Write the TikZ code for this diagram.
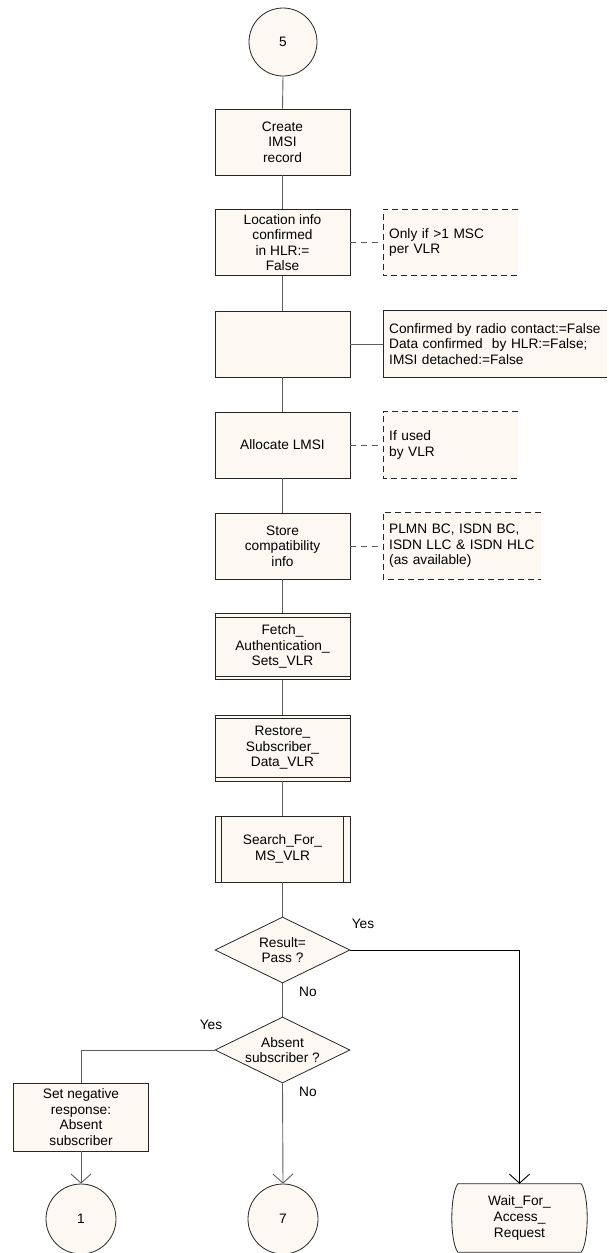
\documentclass[tikz,border=0pt]{standalone}
\usepackage{fontspec}
\setmainfont{Liberation Sans}
\usetikzlibrary{shapes.geometric,arrows.meta,backgrounds}
\definecolor{sdlfill}{RGB}{253,248,242}
\definecolor{linegray}{RGB}{95,95,95}
\begin{document}
\begin{tikzpicture}[x=1pt,y=-1pt,
  every node/.style={font=\fontsize{13.7}{15.6}\selectfont, align=center, inner sep=0pt},
  task/.style={draw=black!85, fill=sdlfill, line width=0.8pt, minimum width=135pt, minimum height=66pt},
  conn/.style={draw=linegray, line width=0.9pt},
  arr/.style={conn, -{Straight Barb[length=9pt,width=20pt]}},
  cmt/.style={fill=sdlfill, anchor=west, minimum height=66pt, inner xsep=6pt, text width=#1, align=left},
  brk/.style={draw=black!85, line width=0.8pt},
  dsh/.style={dash pattern=on 6pt off 4pt},
  conncircle/.style={circle, draw=black!85, fill=sdlfill, line width=0.8pt, minimum size=68pt},
  decision/.style={diamond, draw=black!85, fill=sdlfill, line width=0.8pt, minimum width=135pt, minimum height=66pt, inner sep=0pt}
]
\useasboundingbox (0,0) rectangle (608,1253);

% main column
\node[conncircle] (c5) at (283,42) {5};
\node[task] (b1) at (282.5,142) {Create\\IMSI\\record};
\node[task] (b2) at (282.5,242.5) {Location info\\confirmed\\in HLR:=\\False};
\node[task] (b3) at (282.5,344) {};
\node[task] (b4) at (282.5,445) {Allocate LMSI};
\node[task] (b5) at (282.5,546) {Store\\compatibility\\info};
\node[task] (b6) at (282.5,646.5) {Fetch\_\\Authentication\_\\Sets\_VLR};
\node[task] (b7) at (282.5,748) {Restore\_\\Subscriber\_\\Data\_VLR};
\node[task] (b8) at (282.5,849) {Search\_For\_\\MS\_VLR};
\draw[brk] ([yshift=-4pt]b6.north west) -- ([yshift=-4pt]b6.north east);
\draw[brk] ([yshift=4pt]b6.south west) -- ([yshift=4pt]b6.south east);
\draw[brk] ([yshift=-4pt]b7.north west) -- ([yshift=-4pt]b7.north east);
\draw[brk] ([yshift=4pt]b7.south west) -- ([yshift=4pt]b7.south east);
\draw[brk] ([xshift=7pt]b8.north west) -- ([xshift=7pt]b8.south west);
\draw[brk] ([xshift=-7pt]b8.north east) -- ([xshift=-7pt]b8.south east);

\node[decision] (d1) at (282.5,950) {};
\node (d1t) at (d1.center) {Result=\\Pass ?};
\node[decision] (d2) at (282.5,1050) {};
\node (d2t) at (d2.center) {Absent\\subscriber ?};

\node[task, minimum height=68pt] (b9) at (81,1117) {Set negative\\response:\\Absent\\subscriber};
\node[conncircle, minimum size=70pt] (c1) at (81,1219) {1};
\node[conncircle, minimum size=70pt] (c7) at (283,1219) {7};
\node[minimum width=135pt, minimum height=68pt] (w) at (519.5,1218) {Wait\_For\_\\Access\_\\Request};
\begin{scope}[on background layer]
\draw[fill=sdlfill, draw=black!85, line width=0.8pt]
  ([xshift=6pt]w.north west) -- ([xshift=-6pt]w.north east)
  .. controls ([xshift=2pt,yshift=-11pt]w.north east) and ([xshift=2pt,yshift=11pt]w.south east) .. ([xshift=-6pt]w.south east)
  -- ([xshift=6pt]w.south west)
  .. controls ([xshift=-2pt,yshift=11pt]w.south west) and ([xshift=-2pt,yshift=-11pt]w.north west) .. cycle;
\end{scope}

% comments
\node[cmt=123pt] (k1) at (383,242.5) {Only if >1 MSC\\per VLR};
\node[cmt=212pt] (k2) at (383,344) {Confirmed by radio contact:=False\\Data confirmed\ \ by HLR:=False;\\IMSI detached:=False};
\node[cmt=123pt] (k3) at (383,445) {If used\\by VLR};
\node[cmt=146pt] (k4) at (383,546) {PLMN BC, ISDN BC,\\ISDN LLC \& ISDN HLC\\(as available)};
\draw[brk, dsh] (k1.north east) -- (k1.north west) -- (k1.south west) -- (k1.south east);
\draw[brk] (k2.north east) -- (k2.north west) -- (k2.south west) -- (k2.south east);
\draw[brk, dsh] (k3.north east) -- (k3.north west) -- (k3.south west) -- (k3.south east);
\draw[brk, dsh] (k4.north east) -- (k4.north west) -- (k4.south west) -- (k4.south east);

% connectors
\draw[conn] (c5.south) -- (b1.north);
\draw[conn] (b1.south) -- (b2.north);
\draw[conn] (b2.south) -- (b3.north);
\draw[conn] (b3.south) -- (b4.north);
\draw[conn] (b4.south) -- (b5.north);
\draw[conn] (b5.south) -- (b6.north);
\draw[conn] (b6.south) -- (b7.north);
\draw[conn] (b7.south) -- (b8.north);
\draw[conn] (b8.south) -- (d1.north);
\draw[conn] (d1.south) -- (d2.north);
\draw[arr] (d2.south) -- (c7.north);
\draw[conn] (d2.west) -| (b9.north);
\draw[arr] (b9.south) -- (c1.north);
\draw[arr, draw=black] (d1.east) -| (w.north);

\draw[conn, dash pattern=on 6pt off 5pt] (b2.east) -- (k1.west);
\draw[conn] (b3.east) -- (k2.west);
\draw[conn, dash pattern=on 6pt off 5pt] (b4.east) -- (k3.west);
\draw[conn, dash pattern=on 6pt off 5pt] (b5.east) -- (k4.west);

% labels
\node (y1) at (363,924) {Yes};
\node (n1) at (308,992) {No};
\node (y2) at (211,1025) {Yes};
\node (n2) at (308,1092) {No};
\end{tikzpicture}
\end{document}
